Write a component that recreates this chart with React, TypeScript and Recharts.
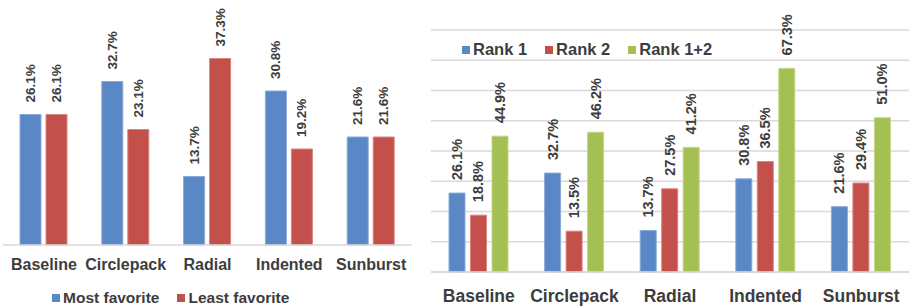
import React from "react";
import { BarChart, Bar, XAxis, YAxis, CartesianGrid, LabelList, Legend } from "recharts";

const categories = ["Baseline", "Circlepack", "Radial", "Indented", "Sunburst"];
const mostFavorite = [26.1, 32.7, 13.7, 30.8, 21.6];
const leastFavorite = [26.1, 23.1, 37.3, 19.2, 21.6];
const rank1 = [26.1, 32.7, 13.7, 30.8, 21.6];
const rank2 = [18.8, 13.5, 27.5, 36.5, 29.4];
const rank12 = [44.9, 46.2, 41.2, 67.3, 51.0];
const rightTicks = [0, 10, 20, 30, 40, 50, 60, 70, 80];

const BLUE = "#5a87c5";
const RED = "#c4504b";
const GREEN = "#a5c052";
const TEXT = "#3d3d3d";
const FONT = "'Liberation Sans', Arial, Helvetica, sans-serif";

const favData = categories.map((name, i) => ({ name, most: mostFavorite[i], least: leastFavorite[i] }));
const rankData = categories.map((name, i) => ({ name, r1: rank1[i], r2: rank2[i], r12: rank12[i] }));

// étiquette verticale au-dessus de la barre
const vLabel = (fontSize: number, gap: number) => (props: any) => {
  const { x, y, width, value } = props;
  const cx = Number(x) + Number(width) / 2;
  const cy = Number(y) - gap;
  return (
    <text
      x={cx}
      y={cy}
      transform={`rotate(-90 ${cx} ${cy})`}
      textAnchor="start"
      dominantBaseline="central"
      fontSize={fontSize}
      fontWeight="bold"
      fontFamily={FONT}
      fill={TEXT}
    >
      {Number(value).toFixed(1)}%
    </text>
  );
};

const legendContent = (items: { label: string; color: string }[], fontSize: number) => () => (
  <div style={{ display: "flex", alignItems: "center", fontFamily: FONT, fontWeight: "bold", fontSize, color: TEXT, whiteSpace: "nowrap" }}>
    {items.map((it) => (
      <span key={it.label} style={{ display: "flex", alignItems: "center", marginRight: 18 }}>
        <span style={{ display: "inline-block", width: 8, height: 8, background: it.color, marginRight: 3 }} />
        {it.label}
      </span>
    ))}
  </div>
);

const tickStyle = (fontSize: number) => ({ fontSize, fontWeight: "bold", fill: TEXT, fontFamily: FONT });

export default function App() {
  return (
    <div style={{ position: "absolute", left: 0, top: 0, width: 909, height: 307, background: "#fff" }}>
      <div style={{ position: "absolute", left: 0, top: 0 }}>
        <BarChart width={450} height={307} data={favData} margin={{ top: 5, right: 38, left: 3, bottom: 0 }} barSize={21} barGap={5}>
          <XAxis
            dataKey="name"
            height={62}
            tickLine={false}
            tickSize={0}
            tickMargin={14}
            axisLine={{ stroke: "#d9d9d9", strokeWidth: 1.5 }}
            tick={tickStyle(16)}
            interval={0}
          />
          <YAxis hide domain={[0, 48]} />
          <Legend
            layout="horizontal"
            verticalAlign="middle"
            align="center"
            wrapperStyle={{ top: 289, left: 52, width: "auto" }}
            content={legendContent([
              { label: "Most favorite", color: BLUE },
              { label: "Least favorite", color: RED },
            ], 15.5)}
          />
          <Bar dataKey="most" fill={BLUE} stroke="#8aaad8" strokeWidth={1} isAnimationActive={false}>
            <LabelList dataKey="most" content={vLabel(13.5, 12)} />
          </Bar>
          <Bar dataKey="least" fill={RED} stroke="#d88480" strokeWidth={1} isAnimationActive={false}>
            <LabelList dataKey="least" content={vLabel(13.5, 12)} />
          </Bar>
        </BarChart>
      </div>
      <div style={{ position: "absolute", left: 431, top: 0 }}>
        <BarChart width={478} height={307} data={rankData} margin={{ top: 30, right: 0, left: 0, bottom: 0 }} barSize={16} barGap={5.5}>
          <CartesianGrid vertical={false} stroke="#d9d9d9" strokeWidth={1.5} />
          <XAxis
            dataKey="name"
            height={35}
            tickLine={false}
            tickSize={0}
            tickMargin={18}
            axisLine={{ stroke: "#d9d9d9", strokeWidth: 1.5 }}
            tick={tickStyle(17.5)}
            interval={0}
          />
          <YAxis hide domain={[0, 80]} ticks={rightTicks} />
          <Legend
            layout="horizontal"
            verticalAlign="middle"
            align="center"
            wrapperStyle={{ top: 40, left: 31, width: "auto" }}
            content={legendContent([
              { label: "Rank 1", color: BLUE },
              { label: "Rank 2", color: RED },
              { label: "Rank 1+2", color: GREEN },
            ], 16.5)}
          />
          <Bar dataKey="r1" fill={BLUE} stroke="#8aaad8" strokeWidth={1} isAnimationActive={false}>
            <LabelList dataKey="r1" content={vLabel(14.5, 13)} />
          </Bar>
          <Bar dataKey="r2" fill={RED} stroke="#d88480" strokeWidth={1} isAnimationActive={false}>
            <LabelList dataKey="r2" content={vLabel(14.5, 13)} />
          </Bar>
          <Bar dataKey="r12" fill={GREEN} stroke="#c3d68a" strokeWidth={1} isAnimationActive={false}>
            <LabelList dataKey="r12" content={vLabel(14.5, 13)} />
          </Bar>
        </BarChart>
      </div>
    </div>
  );
}
